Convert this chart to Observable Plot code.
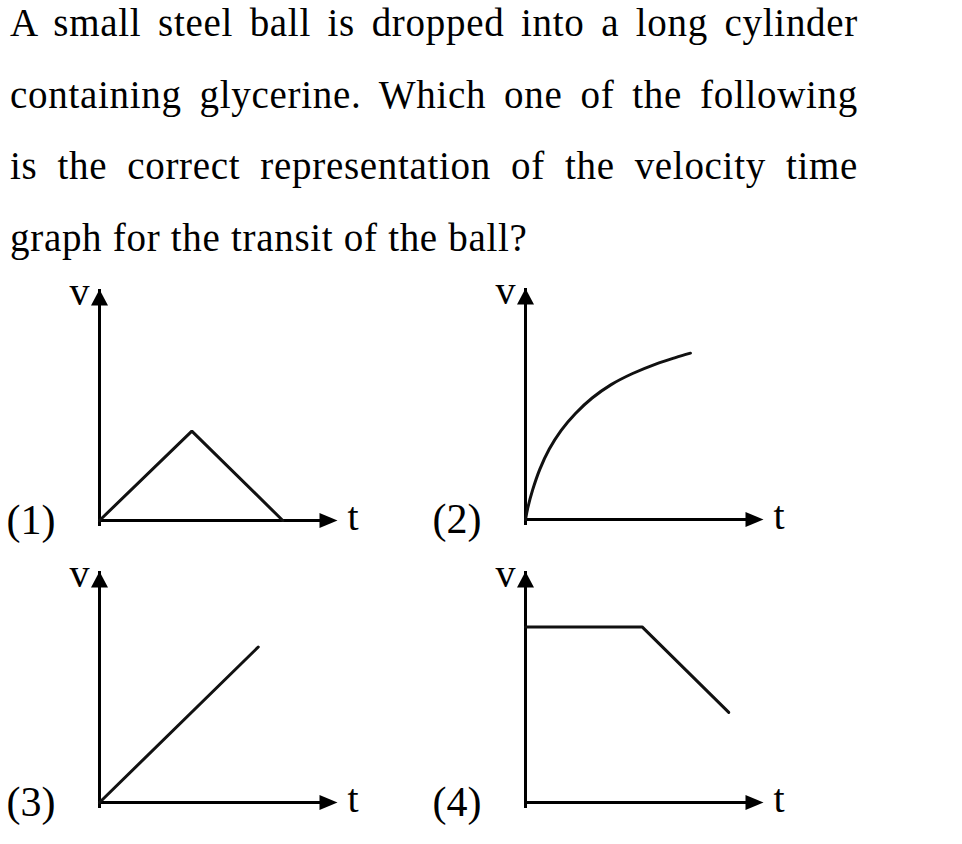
<!DOCTYPE html>
<html>
<head>
<meta charset="utf-8">
<script src="https://cdn.jsdelivr.net/npm/d3@7"></script>
<script src="https://cdn.jsdelivr.net/npm/@observablehq/plot@0.6"></script>
<style>
  html, body { margin: 0; padding: 0; background: #fff; }
  body { width: 962px; height: 844px; position: relative; overflow: hidden;
         font-family: "Liberation Serif", "Times New Roman", serif; color: #000; }
  .q { position: absolute; left: 10px; width: 848px; font-size: 39px; letter-spacing: 0.7px;
       line-height: 39px; white-space: normal; }
  .j { text-align: justify; text-align-last: justify; }
  .panel { position: absolute; }
  .panel svg { background: transparent !important; max-width: none !important; }
  .panel svg text { font-family: "Liberation Serif", "Times New Roman", serif !important; }
</style>
</head>
<body>
<div id="question"></div>
<div id="panels"></div>
<script>
// ---- text ----
const questionLines = [
  "A small steel ball is dropped into a long cylinder",
  "containing glycerine. Which one of the following",
  "is the correct representation of the velocity time",
  "graph for the transit of the ball?"
];
const panelLabels = ["(1)", "(2)", "(3)", "(4)"];
const axisLabels = { y: "v", x: "t" };

// ---- axis extents (arbitrary units, origin to arrow tip) ----
const tAxis = [0, 10];
const vAxis = [0, 10];

// ---- series ----
// (1) rise then fall to zero
const t1 = [0, 3.88, 7.7];
const v1 = [0, 3.87, 0];
// (2) rising curve approaching terminal velocity
const t2 = [0, 0.1, 0.3, 0.6, 1.0, 1.5, 2.1, 2.8, 3.6, 4.5, 5.5, 6.3, 6.93];
const v2 = [0, 0.52, 1.28, 2.17, 3.05, 3.86, 4.59, 5.26, 5.84, 6.32, 6.74, 7.01, 7.20];
// (3) straight line
const t3 = [0, 6.67];
const v3 = [0, 6.73];
// (4) constant then decreasing
const t4 = [0, 4.9, 8.54];
const v4 = [7.6, 7.6, 3.9];

// ---- question text ----
const baselines = [36, 107.5, 179, 250.5];
const qDiv = document.getElementById("question");
questionLines.forEach((line, i) => {
  const d = document.createElement("div");
  d.className = "q" + (i < questionLines.length - 1 ? " j" : "");
  d.style.top = (baselines[i] - 32.65) + "px";
  d.textContent = line;
  qDiv.appendChild(d);
});

// ---- arrowheads (tip at the symbol origin) ----
const arrowUp = { draw(ctx) { ctx.moveTo(0, 0); ctx.lineTo(8.5, 16); ctx.lineTo(-8.5, 16); ctx.closePath(); } };
const arrowRight = { draw(ctx) { ctx.moveTo(0, 0); ctx.lineTo(-18, 7.5); ctx.lineTo(-18, -7.5); ctx.closePath(); } };

const series = [
  { t: t1, v: v1, curve: "linear" },
  { t: t2, v: v2, curve: "catmull-rom" },
  { t: t3, v: v3, curve: "linear" },
  { t: t4, v: v4, curve: "linear" }
];
// page position of each panel's origin
const origins = [[99.3, 519.5], [525, 519.3], [99.3, 801.7], [525, 801.7]];
const OX = 100, OY = 250; // origin inside each svg
const serif = "Liberation Serif";

const panelsDiv = document.getElementById("panels");
series.forEach((s, i) => {
  const data = s.t.map((d, k) => ({ t: d, v: s.v[k] }));
  const svg = Plot.plot({
    width: 380,
    height: 290,
    margin: 0,
    style: { fontFamily: serif, background: "transparent", color: "#000" },
    x: { domain: tAxis, range: [OX, OX + 238], axis: null },
    y: { domain: vAxis, range: [OY, OY - 231], axis: null },
    marks: [
      Plot.ruleX([tAxis[0]], { y1: vAxis[0], y2: vAxis[1], stroke: "#000", strokeWidth: 3, insetTop: 6 }),
      Plot.ruleY([vAxis[0]], { x1: tAxis[0], x2: tAxis[1], stroke: "#000", strokeWidth: 3, insetRight: 6 }),
      Plot.line(data, { x: "t", y: "v", curve: s.curve, stroke: "#111", strokeWidth: 3, strokeLinejoin: "miter" }),
      Plot.dot([{ t: tAxis[0], v: vAxis[1] }], { x: "t", y: "v", symbol: arrowUp, fill: "#000", stroke: null }),
      Plot.dot([{ t: tAxis[1], v: vAxis[0] }], { x: "t", y: "v", symbol: arrowRight, fill: "#000", stroke: null }),
      Plot.text([{ t: tAxis[0], v: vAxis[1], s: axisLabels.y }], {
        x: "t", y: "v", text: "s", textAnchor: "end", lineAnchor: "bottom", dx: -10, dy: 15,
        fontSize: 40, fontFamily: serif, fill: "#000"
      }),
      Plot.text([{ t: tAxis[1], v: vAxis[0], s: axisLabels.x }], {
        x: "t", y: "v", text: "s", textAnchor: "start", lineAnchor: "bottom", dx: 10, dy: 9,
        fontSize: 40, fontFamily: serif, fill: "#000"
      }),
      Plot.text([{ t: tAxis[0], v: vAxis[0], s: panelLabels[i] }], {
        x: "t", y: "v", text: "s", textAnchor: "start", lineAnchor: "bottom", dx: -93, dy: 13,
        fontSize: 42, fontFamily: serif, fill: "#000"
      })
    ]
  });
  const wrap = document.createElement("div");
  wrap.className = "panel";
  wrap.style.left = (origins[i][0] - OX) + "px";
  wrap.style.top = (origins[i][1] - OY) + "px";
  wrap.appendChild(svg);
  panelsDiv.appendChild(wrap);
});
</script>
</body>
</html>
